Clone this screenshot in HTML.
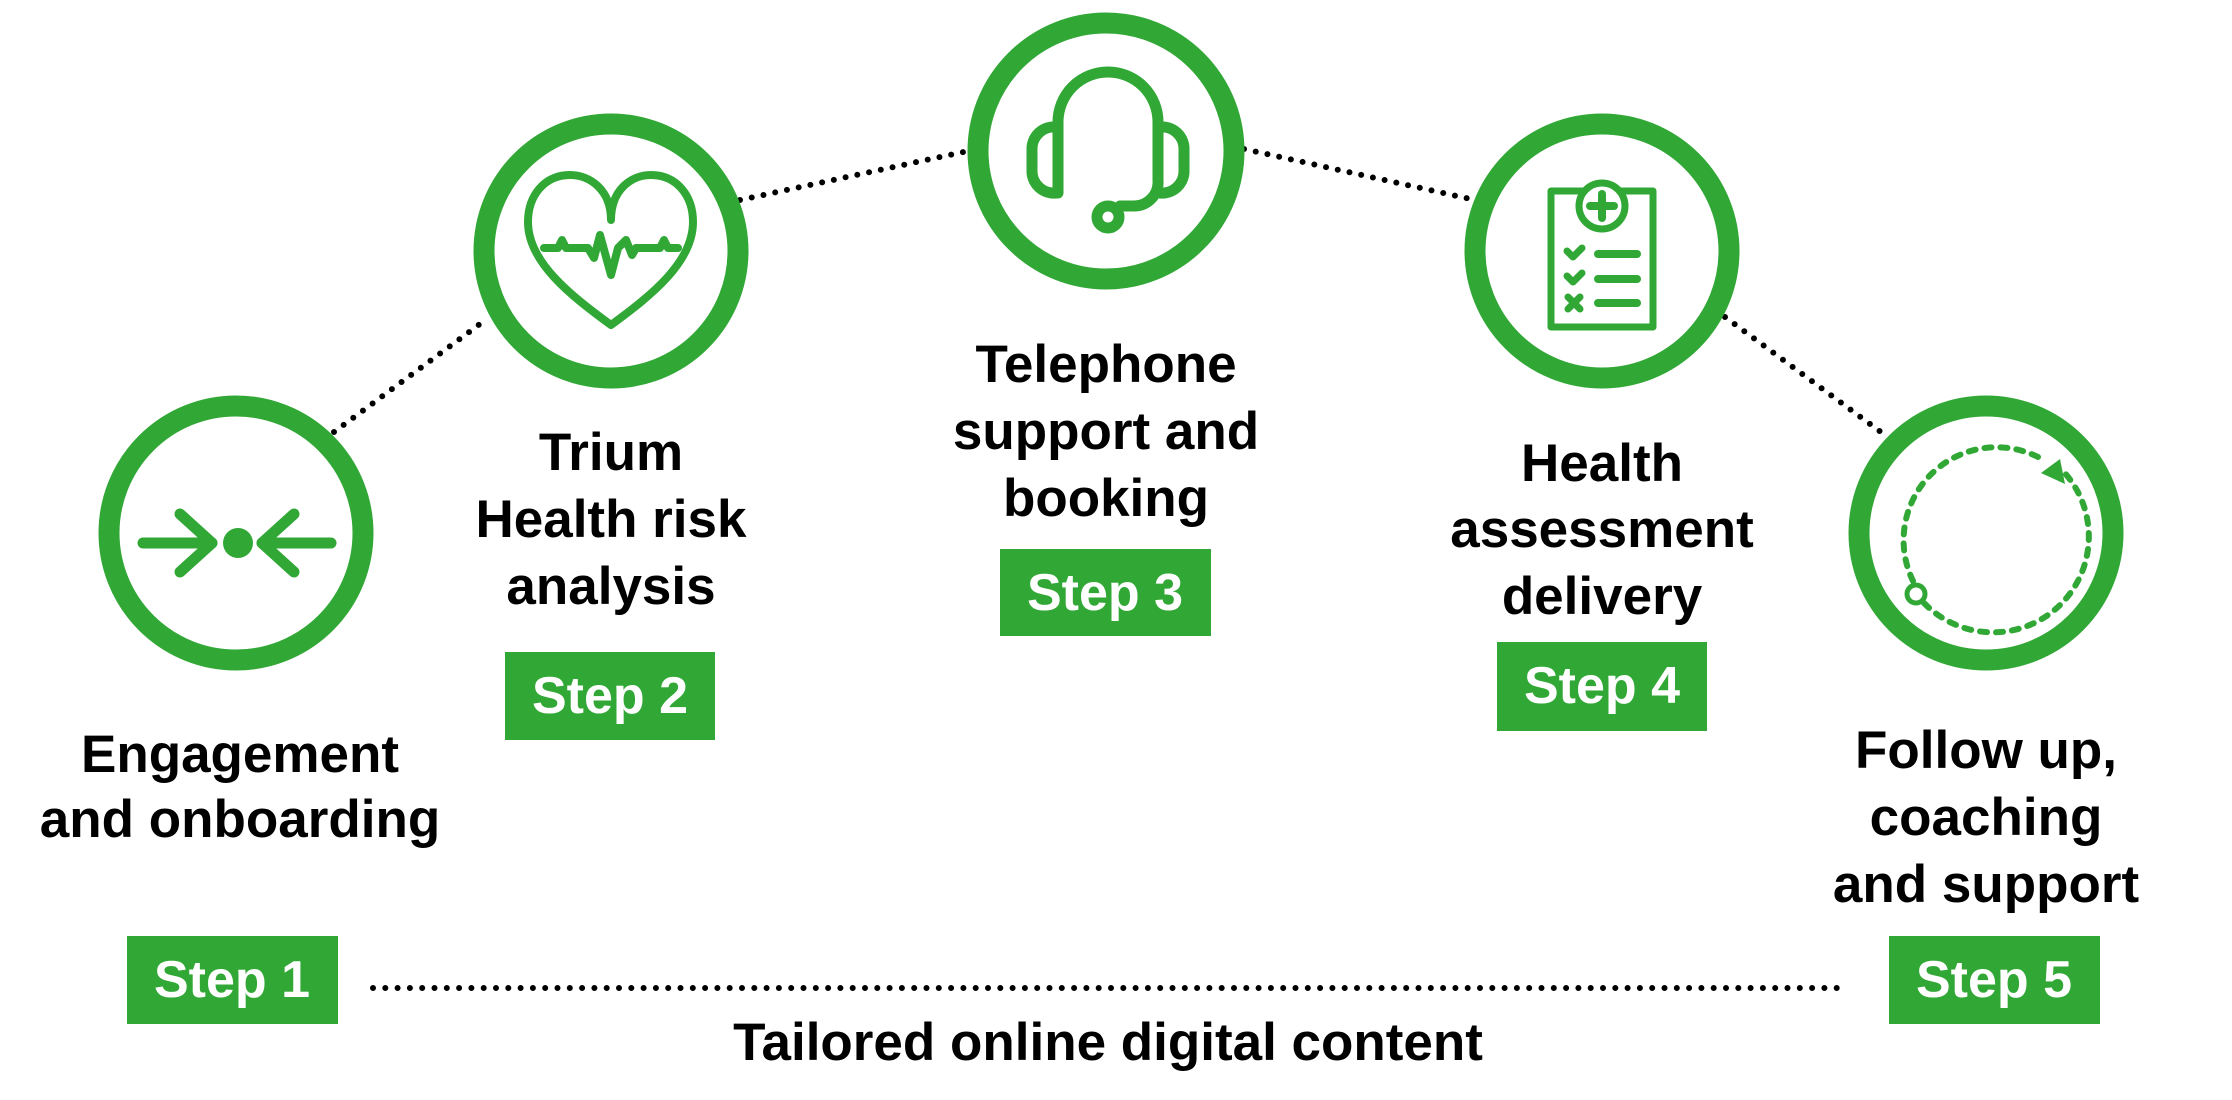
<!DOCTYPE html>
<html><head><meta charset="utf-8"><style>
html,body{margin:0;padding:0;background:#fff;}
svg{display:block}
text{font-family:"Liberation Sans",sans-serif;font-weight:bold;}
</style></head><body>
<svg width="2232" height="1100" viewBox="0 0 2232 1100" xmlns="http://www.w3.org/2000/svg">
<g stroke="#000" stroke-width="6" stroke-linecap="round" stroke-dasharray="0 12" fill="none">
<line x1="334" y1="432" x2="484" y2="321"/>
<line x1="740" y1="200" x2="968" y2="151"/>
<line x1="1244" y1="149" x2="1475" y2="200"/>
<line x1="1725" y1="317" x2="1885" y2="435"/>
<line x1="373" y1="988" x2="1846" y2="988" stroke-dasharray="0 12.3"/>
</g>
<g fill="none" stroke="#31a836" stroke-width="21">
<circle cx="236" cy="533" r="127"/>
<circle cx="611" cy="251" r="127"/>
<circle cx="1106" cy="151" r="128"/>
<circle cx="1602" cy="251" r="127"/>
<circle cx="1986" cy="533" r="127"/>
</g>
<g stroke="#31a836" stroke-width="11" stroke-linecap="round" stroke-linejoin="round" fill="none">
<line x1="143" y1="543" x2="212" y2="543"/>
<polyline points="180,514 212,543 180,572"/>
<line x1="331" y1="543" x2="262" y2="543"/>
<polyline points="294,514 262,543 294,572"/>
</g>
<circle cx="238" cy="543" r="15" fill="#31a836"/>
<g stroke="#31a836" stroke-width="8" stroke-linecap="round" stroke-linejoin="round" fill="none">
<path d="M611,220 C611,190 590,175 570,175 C545,175 528,195 528,222 C528,262 570,295 611,325 C652,295 693,262 693,222 C693,195 676,175 651,175 C631,175 611,190 611,220"/>
<polyline points="544,248 558,248 562,240 566,248 588,248 594,258 600,235 611,275 618,248 626,240 632,255 636,248 660,248 664,240 668,248 678,248"/>
</g>
<g stroke="#31a836" stroke-width="11" stroke-linecap="round" stroke-linejoin="round" fill="none">
<path d="M1058,193 V122 A50,50 0 0 1 1158,122 V180 A24,24 0 0 1 1134,206 H1120"/>
<path d="M1056,127 A22,22 0 0 0 1032,150 V170 A22,22 0 0 0 1056,193"/>
<path d="M1160,127 A22,22 0 0 1 1184,150 V170 A22,22 0 0 1 1160,193"/>
<circle cx="1108" cy="217" r="11"/>
</g>
<g stroke="#31a836" stroke-width="7" stroke-linecap="round" stroke-linejoin="round" fill="none">
<rect x="1551" y="191" width="102" height="136" fill="none"/>
<circle cx="1602" cy="206" r="23" fill="#fff"/>
<line x1="1602" y1="194" x2="1602" y2="218" stroke-width="8"/>
<line x1="1590" y1="206" x2="1614" y2="206" stroke-width="8"/>
<polyline points="1567,251 1573,257 1582,248"/>
<polyline points="1567,276 1573,282 1582,273"/>
<line x1="1568" y1="297" x2="1580" y2="309"/><line x1="1580" y1="297" x2="1568" y2="309"/>
<line x1="1598" y1="254" x2="1637" y2="254" stroke-width="8"/>
<line x1="1598" y1="279" x2="1637" y2="279" stroke-width="8"/>
<line x1="1598" y1="303" x2="1637" y2="303" stroke-width="8"/>
</g>
<path d="M1924,603 A93,93 0 1 0 2062,470" stroke="#31a836" stroke-width="6" stroke-linecap="round" stroke-dasharray="7 9" fill="none"/>
<path d="M1913,581 A93,93 0 0 1 2040,458" stroke="#31a836" stroke-width="6" stroke-linecap="round" stroke-dasharray="7 9" fill="none"/>
<polygon points="2041,473 2060,459 2065,484" fill="#31a836"/>
<circle cx="1916" cy="594" r="9" stroke="#31a836" stroke-width="5" fill="#fff"/>
<g fill="#31a836">
<rect x="127" y="936" width="211" height="88"/>
<rect x="505" y="652" width="210" height="88"/>
<rect x="1000" y="549" width="211" height="87"/>
<rect x="1497" y="642" width="210" height="89"/>
<rect x="1889" y="936" width="211" height="88"/>
</g>
<g fill="#fff" font-size="52" text-anchor="middle">
<text x="232" y="997">Step 1</text>
<text x="610" y="713">Step 2</text>
<text x="1105" y="610">Step 3</text>
<text x="1602" y="703">Step 4</text>
<text x="1994" y="997">Step 5</text>
</g>
<g fill="#000" font-size="53" text-anchor="middle">
<text x="240" y="772">Engagement</text>
<text x="240" y="837">and onboarding</text>
<text x="611" y="470">Trium</text>
<text x="611" y="537">Health risk</text>
<text x="611" y="604">analysis</text>
<text x="1106" y="382">Telephone</text>
<text x="1106" y="449">support and</text>
<text x="1106" y="516">booking</text>
<text x="1602" y="481">Health</text>
<text x="1602" y="547">assessment</text>
<text x="1602" y="614">delivery</text>
<text x="1986" y="768">Follow up,</text>
<text x="1986" y="835">coaching</text>
<text x="1986" y="902">and support</text>
<text x="1108" y="1060">Tailored online digital content</text>
</g>
</svg>
</body></html>
